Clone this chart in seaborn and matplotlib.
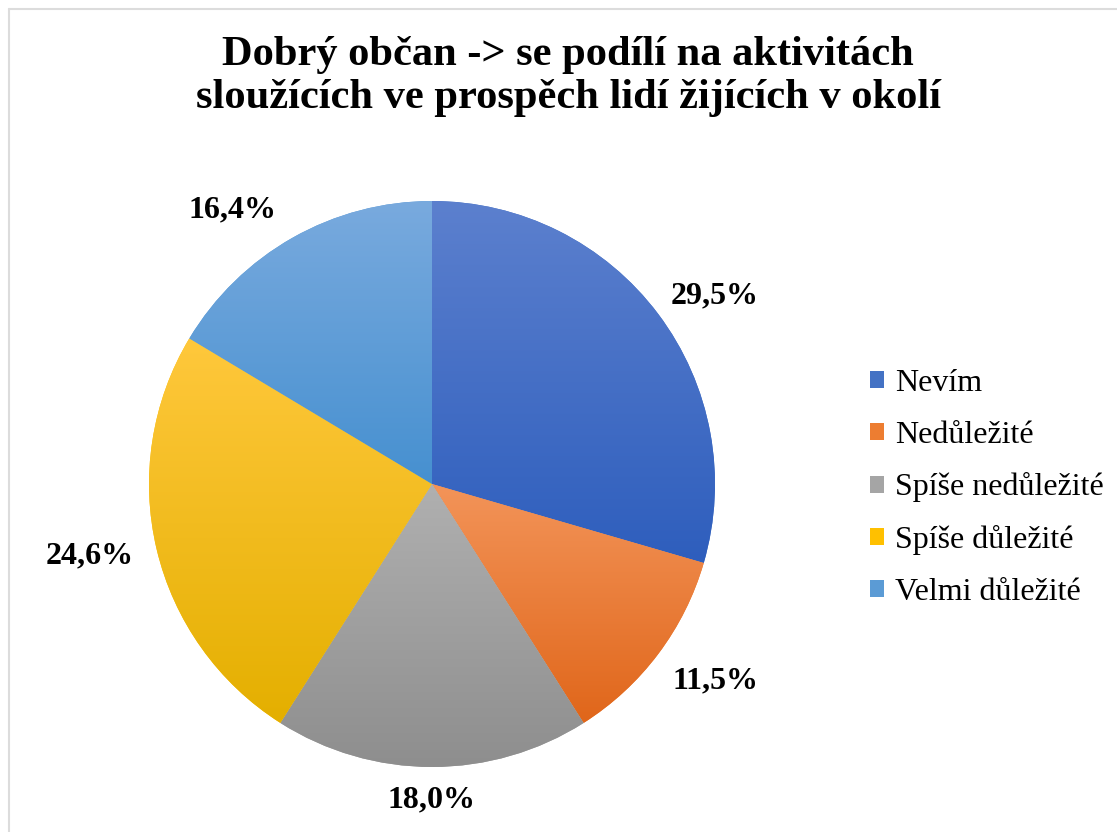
import numpy as np
import matplotlib
matplotlib.use("Agg")
import matplotlib.pyplot as plt
import matplotlib.colors as mcolors
from matplotlib.patches import Patch
from matplotlib.lines import Line2D
import seaborn as sns

# Answer shares (%)
categories = ["Nevím", "Nedůležité", "Spíše nedůležité", "Spíše důležité", "Velmi důležité"]
shares = [29.5, 11.5, 18.0, 24.6, 16.4]

# Slice colours: light tone at the top of each slice, deep tone at the bottom
base_colors = ["#4472C4", "#ED7D31", "#A5A5A5", "#FFC000", "#5B9BD5"]
top_colors = ["#5C80CE", "#F39459", "#B0B0B0", "#FFC83C", "#79AADE"]
bottom_colors = ["#2E5EBD", "#E0661A", "#8E8E8E", "#E4AF00", "#4690D0"]

# percentage label placement: distance from centre (radii), angular nudge (deg)
label_dist = [1.20, 1.22, 1.117, 1.235, 1.198]
label_turn = [-3.2, 2.2, 0.0, -1.4, 6.6]

sns.set_theme(style="white")
plt.rcParams["font.family"] = ["Liberation Serif", "DejaVu Serif"]
plt.rcParams["text.color"] = "black"

W, H = 1117, 832
fig = plt.figure(figsize=(W / 100, H / 100), dpi=100)
fig.patch.set_facecolor("white")

cx, cy, r = 432, 484, 283
ax = fig.add_axes([(cx - r) / W, (H - cy - r) / H, 2 * r / W, 2 * r / H])

wedges, _ = ax.pie(shares, colors=base_colors, startangle=90, counterclock=False,
                   radius=1.0, wedgeprops=dict(linewidth=0))

for w, c0, c1 in zip(wedges, top_colors, bottom_colors):
    ext = w.get_path().get_extents()
    rgb0 = np.array(mcolors.to_rgb(c0))
    rgb1 = np.array(mcolors.to_rgb(c1))
    t = np.linspace(0, 1, 256)[:, None]
    grad = (rgb1 * (1 - t) + rgb0 * t)[:, None, :]  # bottom row first
    im = ax.imshow(grad, extent=[ext.x0, ext.x1, ext.y0, ext.y1], origin="lower",
                   aspect="auto", interpolation="bilinear", zorder=w.get_zorder() + 0.1)
    im.set_clip_path(w)

for w, v, d, turn in zip(wedges, shares, label_dist, label_turn):
    ang = np.deg2rad((w.theta1 + w.theta2) / 2 + turn)
    ax.text(d * np.cos(ang), d * np.sin(ang), f"{v:.1f}".replace(".", ",") + "%",
            ha="center", va="center", fontsize=23, fontweight="bold", color="black")

ax.set_xlim(-1, 1)
ax.set_ylim(-1, 1)
ax.axis("off")

fig.text(568 / W, 1 - 36 / H,
         "Dobrý občan -> se podílí na aktivitách\nsloužících ve prospěch lidí žijících v okolí",
         ha="center", va="top", fontsize=30.6, fontweight="bold", linespacing=1.17,
         color="black")

handles = [Patch(facecolor=c, edgecolor="none") for c in base_colors]
leg = fig.legend(handles, categories, loc="center left",
                 bbox_to_anchor=(870 / W, 1 - 488 / H), frameon=False, fontsize=23,
                 handlelength=0.45, handleheight=0.45, handletextpad=0.34,
                 labelspacing=0.71, borderpad=0, borderaxespad=0)
for t in leg.get_texts():
    t.set_color("black")

# chart frame
fig.add_artist(Line2D([8.5 / W, 8.5 / W], [0, 1 - 8.5 / H], color="#DCDCDC", lw=1.5,
                      transform=fig.transFigure))
fig.add_artist(Line2D([8.5 / W, 1], [1 - 8.5 / H, 1 - 8.5 / H], color="#DCDCDC", lw=1.5,
                      transform=fig.transFigure))

fig.savefig("out.png", dpi=100, facecolor="white")
